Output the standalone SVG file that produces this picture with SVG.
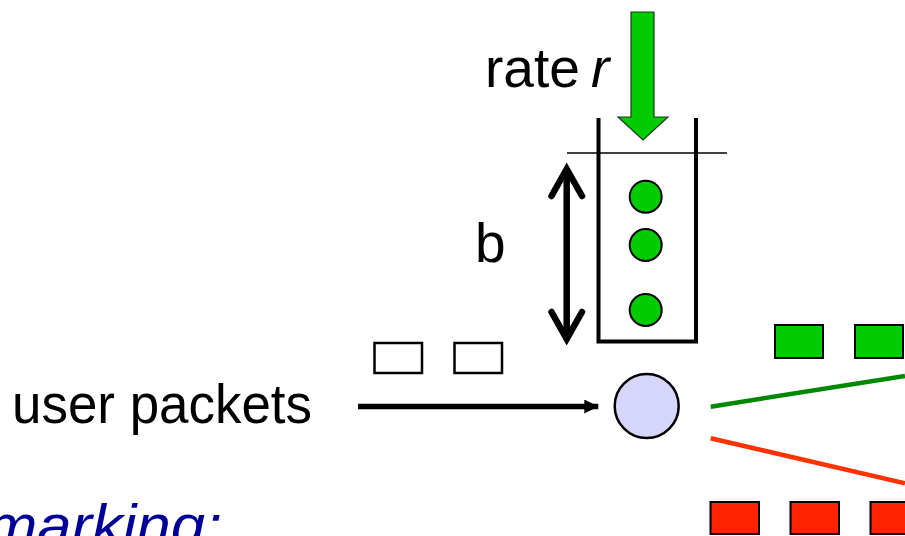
<svg xmlns="http://www.w3.org/2000/svg" width="905" height="536" viewBox="0 0 905 536">
<style>
.lbl{font-family:"Liberation Sans",Arial,sans-serif;font-size:55px;fill:#000}
.tok{fill:#00cc00;stroke:#000;stroke-width:2}
.wpkt{fill:#fff;stroke:#000;stroke-width:2.5}
.gpkt{fill:#00cc00;stroke:#000;stroke-width:2}
.rpkt{fill:#ff2200;stroke:#000;stroke-width:2}
</style>
<defs>
<marker id="ah" markerWidth="14" markerHeight="14" refX="14" refY="7" orient="auto" markerUnits="userSpaceOnUse">
<path d="M0,0 L14,7 L0,14 Z" fill="#000"/>
</marker>
</defs>
<rect width="905" height="536" fill="#fff"/>

<g id="rate">
<text class="lbl" x="485" y="87" textLength="95" lengthAdjust="spacingAndGlyphs">rate</text>
<text class="lbl" x="591" y="87" font-style="italic">r</text>
<path d="M631,12 L654,12 L654,117 L668,117 L643,140 L618,117 L631,117 Z" fill="#00cc00" stroke="#1a3a1a" stroke-width="1.2"/>
</g>

<g id="bucket">
<path d="M598.5,118 L598.5,341.5 L696,341.5 L696,118" fill="none" stroke="#000" stroke-width="4"/>
<line x1="567" y1="153" x2="727" y2="153" stroke="#000" stroke-width="1.5"/>
<circle class="tok" cx="645.7" cy="196.7" r="16"/>
<circle class="tok" cx="645.7" cy="245" r="16"/>
<circle class="tok" cx="645.7" cy="310" r="16"/>
</g>

<g id="depth">
<text class="lbl" x="475" y="262" font-size="54">b</text>
<line x1="566.7" y1="170" x2="566.7" y2="338" stroke="#000" stroke-width="6.5"/>
<polyline points="551.5,196 566.7,169 582,196" fill="none" stroke="#000" stroke-width="6.5" stroke-linejoin="miter" stroke-linecap="round"/>
<polyline points="551.5,312 566.7,339 582,312" fill="none" stroke="#000" stroke-width="6.5" stroke-linejoin="miter" stroke-linecap="round"/>
</g>

<g id="user-packets">
<text class="lbl" x="12" y="423" textLength="300" lengthAdjust="spacingAndGlyphs">user packets</text>
<rect class="wpkt" x="374.5" y="343" width="47.5" height="30"/>
<rect class="wpkt" x="454.5" y="343" width="47.5" height="30"/>
</g>

<g id="marker">
<circle cx="646.7" cy="406" r="32" fill="#d6d6fc" stroke="#000" stroke-width="2.5"/>
</g>

<g id="connectors">
<line x1="358" y1="406.5" x2="598.3" y2="406.5" stroke="#000" stroke-width="5.5" marker-end="url(#ah)"/>
<line x1="710.7" y1="406.7" x2="905" y2="376" stroke="#008800" stroke-width="4.5"/>
<line x1="710.7" y1="438.3" x2="905" y2="483.3" stroke="#ff3300" stroke-width="4.5"/>
</g>

<g id="conforming">
<rect class="gpkt" x="775" y="325" width="48" height="33"/>
<rect class="gpkt" x="855" y="325" width="48" height="33"/>
</g>

<g id="nonconforming">
<rect class="rpkt" x="710.5" y="502" width="48.5" height="32"/>
<rect class="rpkt" x="790.5" y="502" width="48.5" height="32"/>
<rect class="rpkt" x="870.5" y="502" width="48.5" height="32"/>
</g>

<g id="title">
<text x="-14" y="545" font-family="'Liberation Sans',Arial,sans-serif" font-style="italic" font-size="58" fill="#000099" textLength="236" lengthAdjust="spacingAndGlyphs">marking:</text>
</g>
</svg>
